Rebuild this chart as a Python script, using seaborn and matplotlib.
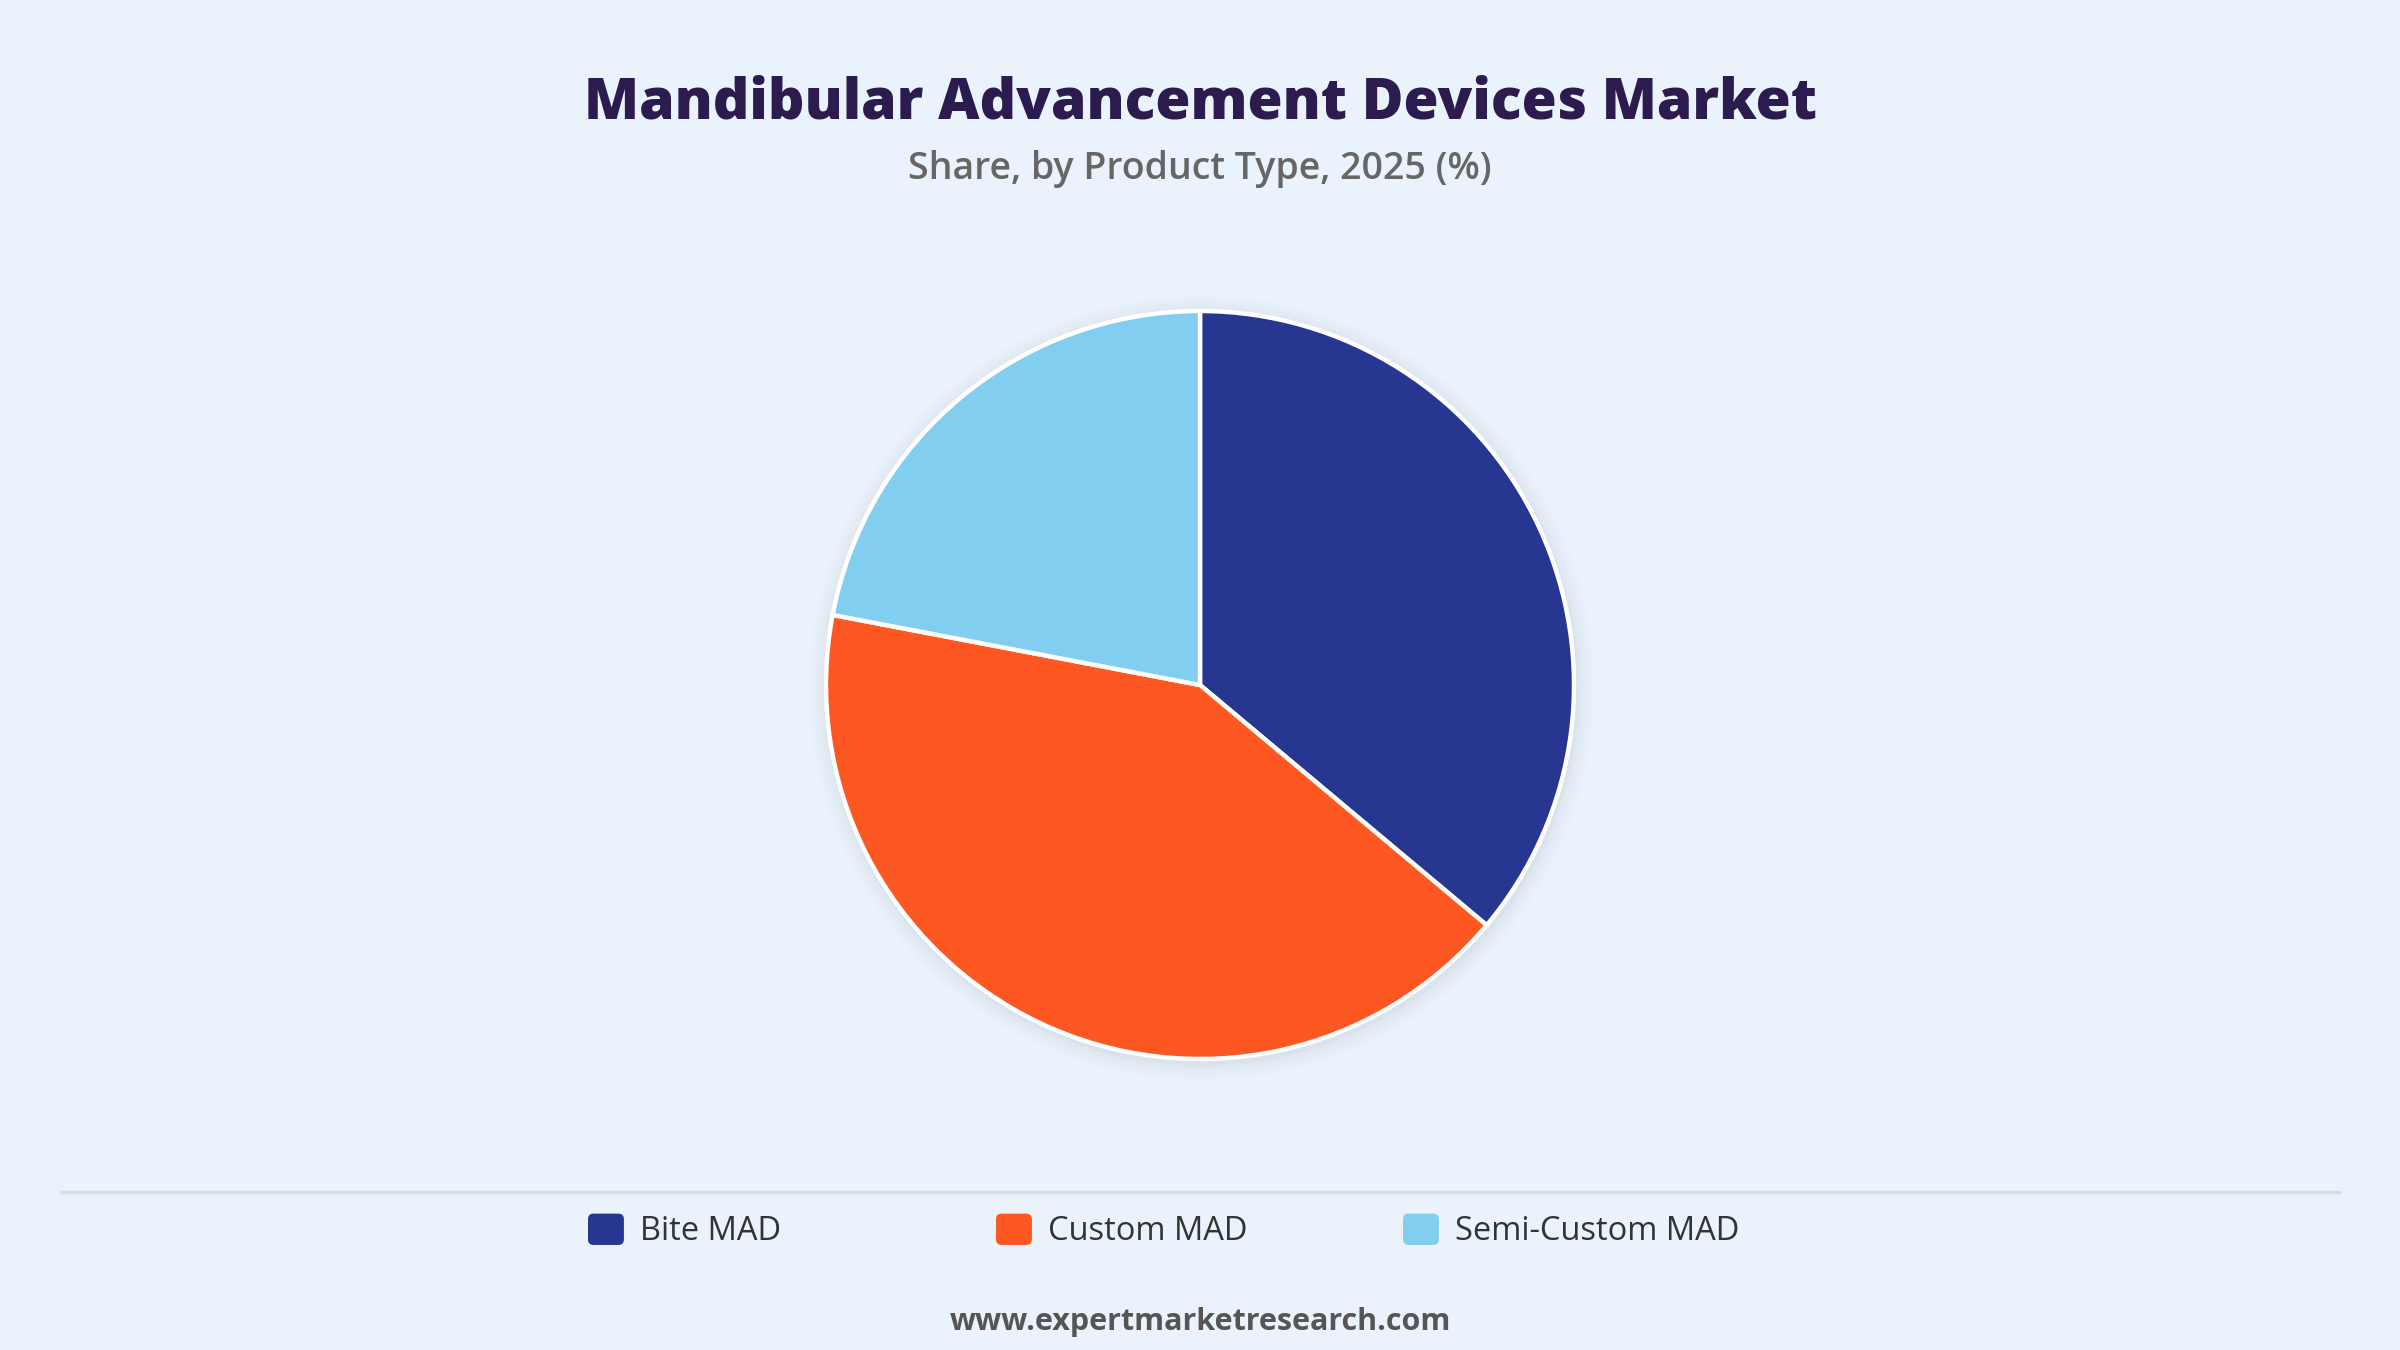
import matplotlib
matplotlib.use("Agg")
import matplotlib.pyplot as plt
import seaborn as sns
from matplotlib.lines import Line2D
from matplotlib.patches import Circle, FancyBboxPatch, Patch
from matplotlib.legend_handler import HandlerPatch

# Market share by product type, 2025 (%)
segments = ["Bite MAD", "Custom MAD", "Semi-Custom MAD"]
shares = [36.1, 41.9, 22.0]
colors = ["#273691", "#FF5722", "#81CEF0"]

title = "Mandibular Advancement Devices Market"
subtitle = "Share, by Product Type, 2025 (%)"
footer = "www.expertmarketresearch.com"

bg = "#EAF2FB"

sns.set_theme(style="white")
plt.rcParams["font.family"] = ["Open Sans", "DejaVu Sans"]

fig = plt.figure(figsize=(24, 13.5), dpi=100, facecolor=bg)

# pie axes: centre ~ (1200, 685) px, radius ~374 px
r_px = 374
cx, cy = 1200, 685
pad = 1.06
ax = fig.add_axes([(cx - r_px * pad) / 2400, (1350 - cy - r_px * pad) / 1350,
                   2 * r_px * pad / 2400, 2 * r_px * pad / 1350])
ax.set_facecolor(bg)

# soft shadow behind the pie
for i, a in enumerate([0.06, 0.045, 0.03, 0.02, 0.012]):
    ax.add_patch(Circle((0.004, -0.008), 1.0 + 0.01 * (i + 1), color="#8F9BAA",
                        alpha=a, lw=0, zorder=0))

wedges, _ = ax.pie(shares, colors=sns.color_palette(colors), startangle=90,
                   counterclock=False, radius=1.0,
                   wedgeprops=dict(edgecolor="white", linewidth=3.2))
for w in wedges:
    w.set_zorder(2)
ax.set_xlim(-pad, pad)
ax.set_ylim(-pad, pad)
ax.set_aspect("equal")
ax.axis("off")

fig.text(0.5, 1 - 104 / 1350, title, ha="center", va="center",
         fontsize=41, fontweight="heavy", color="#2B1B4E")
fig.text(0.5, 1 - 169 / 1350, subtitle, ha="center", va="center",
         fontsize=27, fontweight="semibold", color="#666666")

# divider line above the legend
fig.add_artist(Line2D([61 / 2400, 2339 / 2400], [1 - 1192 / 1350] * 2,
                      color="#D9DDE2", lw=2.5))


def rounded_box(legend, orig_handle, xdescent, ydescent, width, height, fontsize):
    return FancyBboxPatch((-xdescent, -ydescent), width, height,
                          boxstyle="round,pad=0,rounding_size=4")


# fixed-width legend columns
legend_left = [588, 996, 1403]
for s, c, x0 in zip(segments, colors, legend_left):
    fig.legend(handles=[Patch(facecolor=c, edgecolor="none", label=s)],
               loc="center left", bbox_to_anchor=(x0 / 2400, 1 - 1231 / 1350),
               frameon=False, fontsize=23.5, borderpad=0, borderaxespad=0,
               handlelength=1.1, handleheight=1.1, handletextpad=0.48,
               labelcolor="#333333",
               handler_map={Patch: HandlerPatch(patch_func=rounded_box)})

fig.text(0.5, 1 - 1322 / 1350, footer, ha="center", va="center",
         fontsize=22, fontweight="bold", color="#555555")

fig.savefig("out.png", dpi=100, facecolor=bg)
